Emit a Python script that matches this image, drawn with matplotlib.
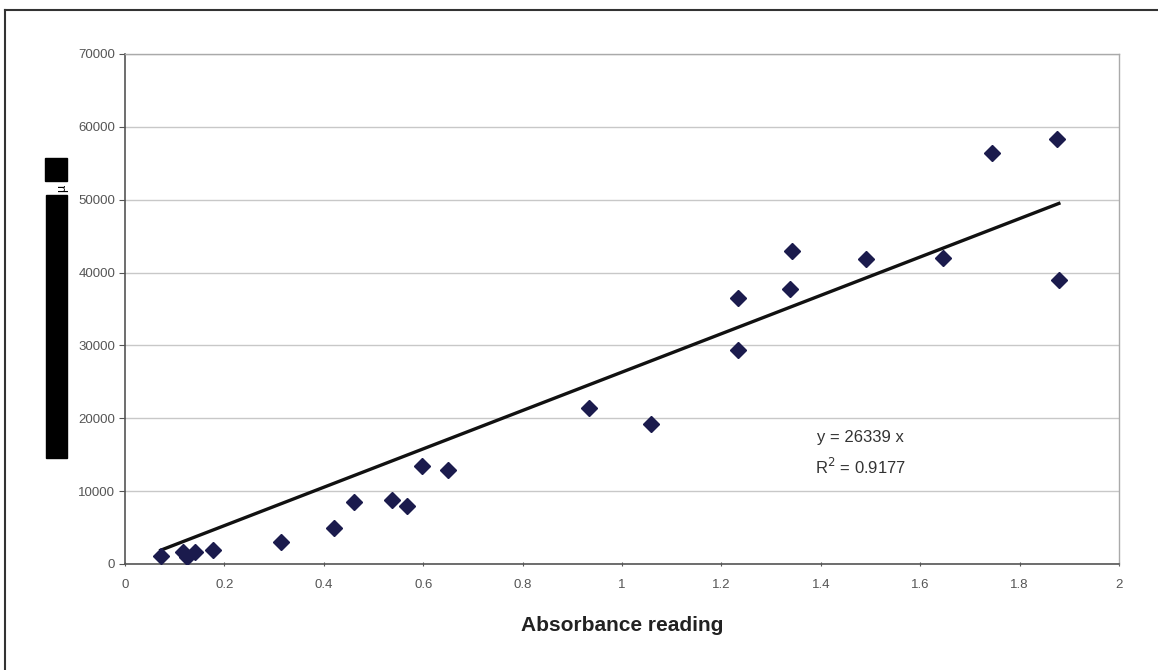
import matplotlib
matplotlib.use('Agg')
import matplotlib.pyplot as plt
from matplotlib.patches import Rectangle
from matplotlib.lines import Line2D
import numpy as np

absorbance = [0.072, 0.117, 0.125, 0.141, 0.178, 0.313, 0.421, 0.460, 0.537, 0.567,
              0.598, 0.649, 0.933, 1.059, 1.233, 1.233, 1.338, 1.342, 1.491, 1.645,
              1.744, 1.875, 1.879]
value = [1100, 1700, 1000, 1650, 1900, 3000, 4950, 8550, 8800, 7950,
         13450, 12900, 21350, 19150, 36450, 29350, 37800, 43000, 41900, 41950,
         56400, 58300, 38950]
slope = 26339
r2 = 0.9177
x_ticks = [0, 0.2, 0.4, 0.6, 0.8, 1, 1.2, 1.4, 1.6, 1.8, 2]
x_labels = ['0', '0.2', '0.4', '0.6', '0.8', '1', '1.2', '1.4', '1.6', '1.8', '2']
y_ticks = [0, 10000, 20000, 30000, 40000, 50000, 60000, 70000]

plt.rcParams['font.family'] = ['Liberation Sans', 'DejaVu Sans']

fig = plt.figure(figsize=(11.58, 6.70), dpi=100)
ax = fig.add_axes([125/1158, 1 - 564/670, (1119 - 125)/1158, (564 - 54)/670])

ax.set_xlim(0, 2)
ax.set_ylim(0, 70000)
ax.set_xticks(x_ticks)
ax.set_xticklabels(x_labels)
ax.set_yticks(y_ticks)
ax.yaxis.grid(True, color='#c8c8c8', lw=1)
ax.set_axisbelow(True)

xs = np.array([min(absorbance), max(absorbance)])
ax.plot(xs, slope * xs, color='#111111', lw=2.4, zorder=2)
ax.plot(absorbance, value, 'D', color='#1b1b4d', markersize=8.5, zorder=3)

ax.text(1.48, 17400, f'y = {slope} x', ha='center', va='center', fontsize=12, color='#333333')
ax.text(1.48, 13300, f'R$^2$ = {r2}', ha='center', va='center', fontsize=12, color='#333333')

for s in ['left', 'bottom']:
    ax.spines[s].set_color('#555555')
    ax.spines[s].set_linewidth(1.2)
for s in ['right', 'top']:
    ax.spines[s].set_color('#aaaaaa')
    ax.spines[s].set_linewidth(1)
ax.tick_params(axis='y', length=4, color='#555555', labelsize=9.5, labelcolor='#555555', pad=3)
ax.tick_params(axis='x', length=3, direction='inout', color='#555555', labelsize=9.5,
               labelcolor='#555555', pad=9)

ax.set_xlabel('Absorbance reading', fontsize=15, fontweight='bold', color='#222222', labelpad=18)

# outer frame (left and top edges visible)
fig.add_artist(Line2D([5/1158, 5/1158], [0, 1 - 10/670], transform=fig.transFigure, color='#333333', lw=1.5))
fig.add_artist(Line2D([5/1158, 1], [1 - 10/670, 1 - 10/670], transform=fig.transFigure, color='#333333', lw=1.5))

# redacted y-axis label
fig.add_artist(Rectangle((45/1158, 1 - 181/670), 22/1158, 23/670, transform=fig.transFigure, color='black'))
fig.add_artist(Rectangle((46/1158, 1 - 458/670), 21/1158, 263/670, transform=fig.transFigure, color='black'))
fig.text(62/1158, 1 - 188/670, 'µ', rotation=90, ha='center', va='center', fontsize=9, color='black')

fig.savefig('out.png', dpi=100)
